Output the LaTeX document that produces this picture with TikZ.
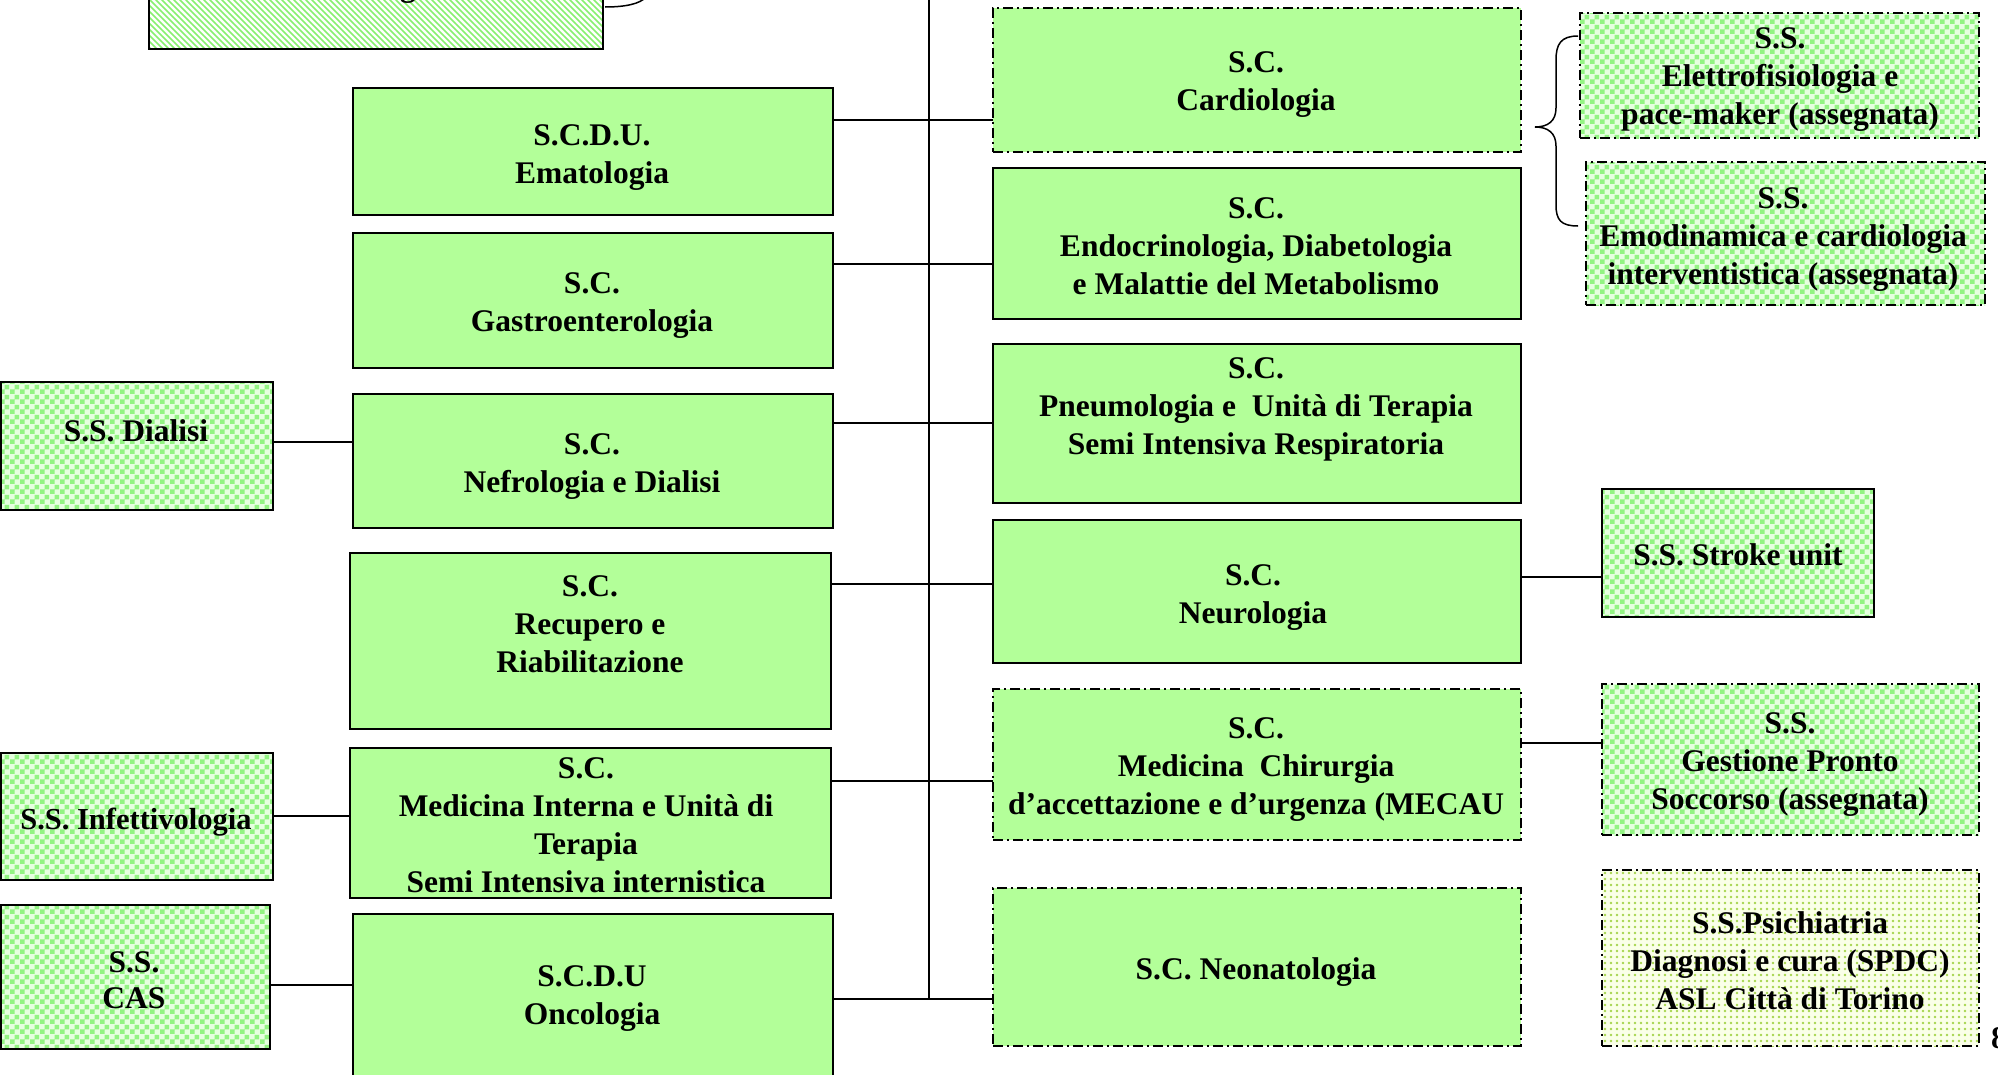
\documentclass[tikz,border=0pt]{standalone}
\usepackage{fontspec}
\setmainfont{Liberation Serif}
\usetikzlibrary{patterns}
\definecolor{boxgreen}{HTML}{B3FF99}
\definecolor{chkbg}{HTML}{E6FFE0}
\definecolor{chkfg}{HTML}{92F482}
\definecolor{psybg}{HTML}{FAFFE8}
\definecolor{psyfg}{HTML}{A6D44E}
\definecolor{stripefg}{HTML}{88F070}
\pgfdeclarepatternformonly{bigchecker}{\pgfqpoint{0pt}{0pt}}{\pgfqpoint{10pt}{10pt}}{\pgfqpoint{10pt}{10pt}}{%
  \pgfpathrectangle{\pgfqpoint{0pt}{0pt}}{\pgfqpoint{5pt}{5pt}}%
  \pgfpathrectangle{\pgfqpoint{5pt}{5pt}}{\pgfqpoint{5pt}{5pt}}%
  \pgfusepath{fill}}
\pgfdeclarepatternformonly{bigdots}{\pgfqpoint{-1pt}{-1pt}}{\pgfqpoint{7pt}{7pt}}{\pgfqpoint{6pt}{6pt}}{%
  \pgfpathcircle{\pgfqpoint{3pt}{3pt}}{1.3pt}%
  \pgfusepath{fill}}
\pgfdeclarepatternformonly{bigstripes}{\pgfqpoint{-1pt}{-1pt}}{\pgfqpoint{7pt}{7pt}}{\pgfqpoint{6pt}{6pt}}{%
  \pgfsetlinewidth{1.6pt}%
  \pgfpathmoveto{\pgfqpoint{0pt}{6pt}}\pgfpathlineto{\pgfqpoint{6pt}{0pt}}%
  \pgfusepath{stroke}}
\tikzset{
  base/.style={rectangle, draw=black, line width=2pt, inner sep=0pt, outer sep=0pt},
  plainbox/.style={base, fill=boxgreen},
  ddash/.style={dash pattern=on 10pt off 4pt on 2pt off 4pt},
  chkbox/.style={base, preaction={fill=chkbg}, pattern=bigchecker, pattern color=chkfg},
  psybox/.style={base, preaction={fill=psybg}, pattern=bigdots, pattern color=psyfg},
  stripebox/.style={base, preaction={fill=white}, pattern=bigstripes, pattern color=stripefg},
  lbl/.style={font=\bfseries\fontsize{31.5}{38}\selectfont, align=center, inner sep=0pt},
  conn/.style={line width=1.5pt},
}
\begin{document}
\begin{tikzpicture}[x=1pt,y=-1pt]
\useasboundingbox (0,0) rectangle (1998,1074);

% top-left partially visible box
\node[stripebox, minimum width=454pt, minimum height=149pt] (topl) at (376,-25.5) {};
\node[lbl, anchor=base] (toplT) at (408,-4) {g};
\draw[conn] (605,7) .. controls (625,7) and (640,4) .. (646,-3);

% trunk
\coordinate (ttop) at (929,0);
\coordinate (tbot) at (929,999);
\draw[conn] (ttop) -- (tbot);

% left column
\node[plainbox, minimum width=480pt, minimum height=127pt] (emat) at (593,151.5) {};
\node[lbl] (ematT) at (592,158) {S.C.D.U.\\Ematologia};
\node[plainbox, minimum width=480pt, minimum height=135pt] (gastro) at (593,300.5) {};
\node[lbl] (gastroT) at (592,306) {S.C.\\Gastroenterologia};
\node[plainbox, minimum width=480pt, minimum height=134pt] (nefro) at (593,461) {};
\node[lbl] (nefroT) at (592,467) {S.C.\\Nefrologia e Dialisi};
\node[plainbox, minimum width=481pt, minimum height=176pt] (recup) at (590.5,641) {};
\node[lbl] (recupT) at (590,624) {S.C.\\Recupero e\\Riabilitazione};
\node[plainbox, minimum width=481pt, minimum height=150pt] (medint) at (590.5,823) {};
\node[lbl] (medintT) at (586,825) {S.C.\\Medicina Interna e Unità di\\Terapia\\Semi Intensiva internistica};
\node[plainbox, minimum width=480pt, minimum height=176pt] (onco) at (593,1002) {};
\node[lbl] (oncoT) at (592,999) {S.C.D.U\\Oncologia};

% far left
\node[chkbox, minimum width=272pt, minimum height=128pt] (dial) at (137,446) {};
\node[lbl] (dialT) at (136,431) {S.S. Dialisi};
\node[chkbox, minimum width=272pt, minimum height=127pt] (infett) at (137,816.5) {};
\node[lbl, font=\bfseries\fontsize{30.5}{38}\selectfont] (infettT) at (136,822) {S.S. Infettivologia};
\node[chkbox, minimum width=269pt, minimum height=144pt] (cas) at (135.5,977) {};
\node[lbl, font=\bfseries\fontsize{31.5}{36}\selectfont] (casT) at (134,980) {S.S.\\CAS};

% right column
\node[plainbox, ddash, minimum width=528pt, minimum height=144pt] (cardio) at (1257,80) {};
\node[lbl] (cardioT) at (1256,85) {S.C.\\Cardiologia};
\node[plainbox, minimum width=528pt, minimum height=151pt] (endo) at (1257,243.5) {};
\node[lbl] (endoT) at (1256,246) {S.C.\\Endocrinologia, Diabetologia\\e Malattie del Metabolismo};
\node[plainbox, minimum width=528pt, minimum height=159pt] (pneumo) at (1257,423.5) {};
\node[lbl] (pneumoT) at (1256,409) {S.C.\\Pneumologia e~ Unità di Terapia\\Semi Intensiva Respiratoria};
\node[plainbox, minimum width=528pt, minimum height=143pt] (neuro) at (1257,591.5) {};
\node[lbl] (neuroT) at (1253,598) {S.C.\\Neurologia};
\node[plainbox, ddash, minimum width=528pt, minimum height=151pt] (mecau) at (1257,764.5) {};
\node[lbl] (mecauT) at (1256,770) {S.C.\\Medicina~ Chirurgia\\d’accettazione e d’urgenza (MECAU};
\node[plainbox, ddash, minimum width=528pt, minimum height=158pt] (neonat) at (1257,967) {};
\node[lbl] (neonatT) at (1256,972) {S.C. Neonatologia};

% far right
\node[chkbox, ddash, minimum width=399pt, minimum height=125pt] (elettro) at (1779.5,75.5) {};
\node[lbl] (elettroT) at (1780,80) {S.S.\\Elettrofisiologia e\\pace-maker (assegnata)};
\node[chkbox, ddash, minimum width=399pt, minimum height=143pt] (emod) at (1785.5,233.5) {};
\node[lbl] (emodT) at (1783,240) {S.S.\\Emodinamica e cardiologia\\interventistica (assegnata)};
\node[chkbox, minimum width=272pt, minimum height=128pt] (stroke) at (1738,553) {};
\node[lbl] (strokeT) at (1738,555) {S.S. Stroke unit};
\node[chkbox, ddash, minimum width=377pt, minimum height=151pt] (gest) at (1790.5,759.5) {};
\node[lbl] (gestT) at (1790,765) {S.S.\\Gestione Pronto\\Soccorso (assegnata)};
\node[psybox, ddash, minimum width=377pt, minimum height=176pt] (psy) at (1790.5,958) {};
\node[lbl] (psyT) at (1790,961) {S.S.Psichiatria\\Diagnosi e cura (SPDC)\\ASL Città di Torino};
\node[lbl, anchor=base west] (pagenum) at (1991,1048) {8};

% brace to cardiology sub-units
\draw[conn] (1578,36) .. controls (1561,36) and (1556,44) .. (1556,60) -- (1556,108)
  .. controls (1556,121) and (1548,127) .. (1535,127)
  .. controls (1548,127) and (1556,133) .. (1556,146) -- (1556,205)
  .. controls (1556,220) and (1561,226) .. (1578,226);

% trunk crossings
\draw[conn] (emat.east |- 0,120) -- (cardio.west |- 0,120);
\draw[conn] (gastro.east |- 0,264) -- (endo.west |- 0,264);
\draw[conn] (nefro.east |- 0,423) -- (pneumo.west |- 0,423);
\draw[conn] (recup.east |- 0,584) -- (neuro.west |- 0,584);
\draw[conn] (medint.east |- 0,781) -- (mecau.west |- 0,781);
\draw[conn] (onco.east |- 0,999) -- (neonat.west |- 0,999);

% side links
\draw[conn] (dial.east |- 0,442) -- (nefro.west |- 0,442);
\draw[conn] (infett.east |- 0,816) -- (medint.west |- 0,816);
\draw[conn] (cas.east |- 0,985) -- (onco.west |- 0,985);
\draw[conn] (neuro.east |- 0,577) -- (stroke.west |- 0,577);
\draw[conn] (mecau.east |- 0,743) -- (gest.west |- 0,743);
\end{tikzpicture}
\end{document}
